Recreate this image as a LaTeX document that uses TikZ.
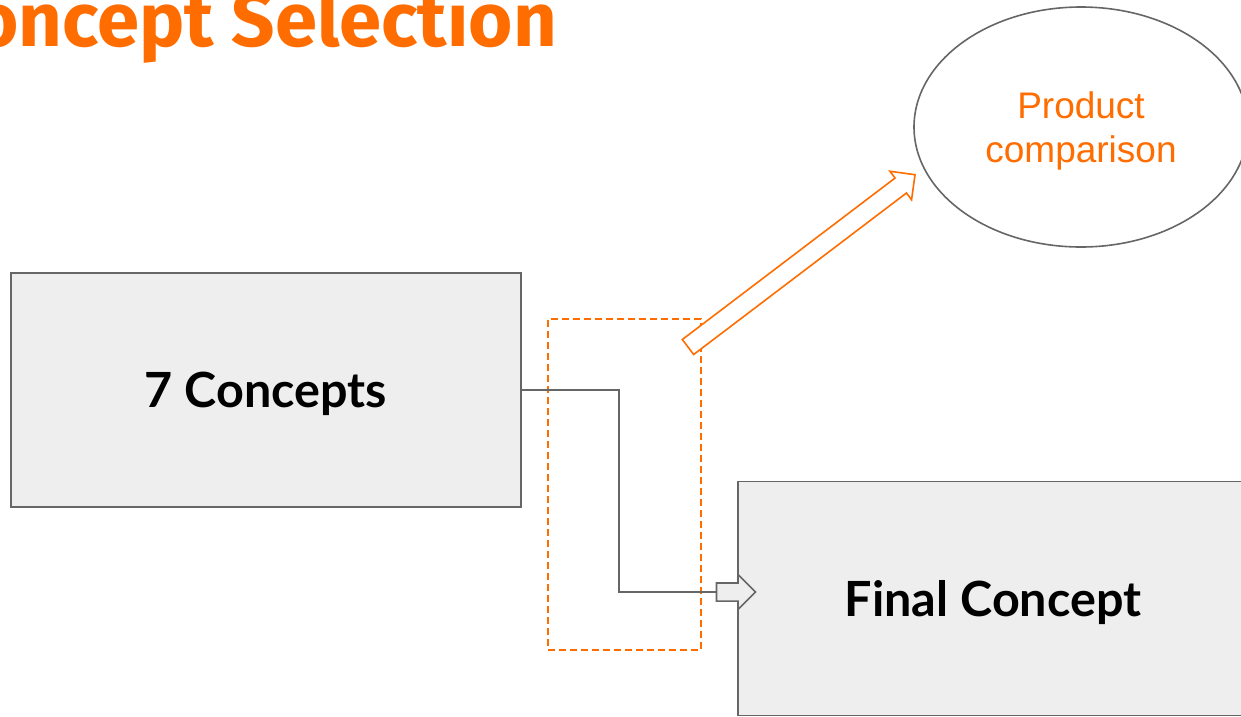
\documentclass[tikz,border=0pt]{standalone}
\usepackage{fontspec}
\setmainfont{Liberation Sans}
\newfontfamily\headfont{Fira Sans}
\newfontfamily\boxfont{Lato}
\usetikzlibrary{arrows.meta,positioning,shapes.geometric,shapes.arrows}
\definecolor{brandorange}{HTML}{FF6D01}
\definecolor{edgegray}{HTML}{666666}
\definecolor{boxgray}{HTML}{EEEEEE}
\tikzset{
    every picture/.style={line join=miter},
    conceptbox/.style={draw=edgegray,fill=boxgray,line width=1.8pt,
      minimum width=510pt,minimum height=234pt,inner sep=0pt,outer sep=0pt,
      text height=35pt,text depth=0pt,
      font=\boxfont\bfseries\fontsize{48.5}{54}\selectfont},
    ideabubble/.style={draw=edgegray,ellipse,line width=1.6pt,
      minimum width=334pt,minimum height=240pt,inner sep=0pt,outer sep=0pt,
      text=brandorange,align=center,text depth=0pt,
      font=\fontsize{37}{44.5}\selectfont},
    selectzone/.style={draw=brandorange,line width=1.8pt,
      dash pattern=on 7pt off 4pt,minimum width=153pt,minimum height=331pt,
      inner sep=0pt,outer sep=0pt},
    blockarrow/.style={single arrow,single arrow head extend=8.5pt,
      single arrow tip angle=90,inner xsep=0pt,outer sep=0pt,
      line width=1.6pt,anchor=tail},
    linkline/.style={draw=edgegray,line width=1.8pt}
}
\begin{document}
\begin{tikzpicture}[x=1pt,y=-1pt]
    \clip (0,0) rectangle (1241,716);
    \node[anchor=base east,inner sep=0pt,text=brandorange,
      font=\headfont\bfseries\fontsize{76}{80}\selectfont] (title) at (557,46) {Concept Selection};
    \node[conceptbox] (concepts) at (266,390) {7 Concepts};
    \node[conceptbox] (final) at (993,598.5) {Final Concept};
    \node[ideabubble] (compare) at (1081,127) {Product\\comparison};
    \node[selectzone] (zone) at (624.5,484.5) {};
    \node[blockarrow,draw=edgegray,fill=boxgray,inner ysep=8.25pt,
      minimum height=39pt] (push) at (716.5,592) {};
    \node[blockarrow,draw=brandorange,fill=white,inner ysep=8.6pt,
      minimum height=285pt,rotate=37.2] (pull) at (688,347) {};
    \coordinate (bend) at (619,390);
    \draw[linkline] (concepts.east) -- (bend) |- (push.tail);
\end{tikzpicture}
\end{document}
